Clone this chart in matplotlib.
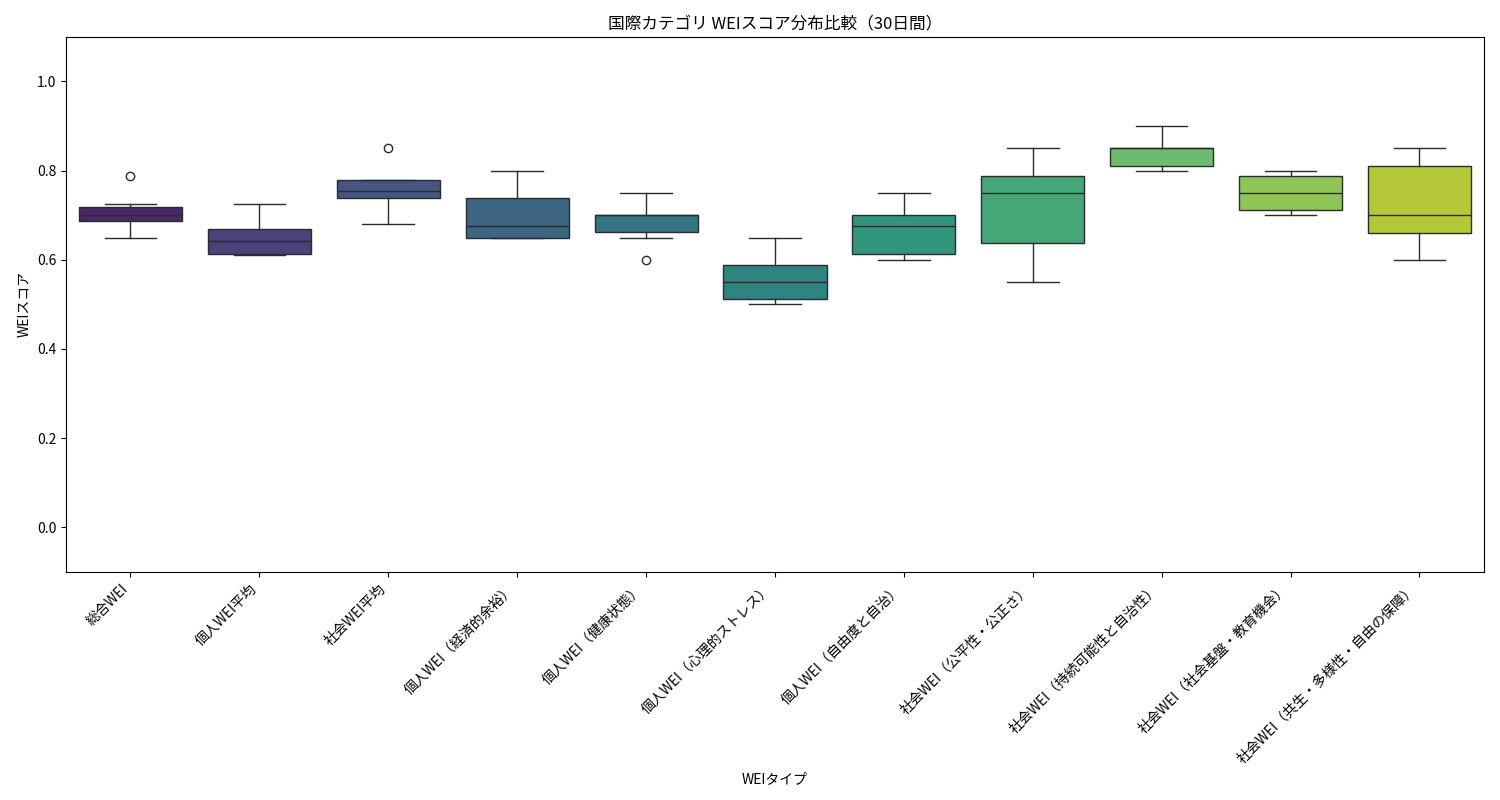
import matplotlib
matplotlib.use("Agg")
import matplotlib.pyplot as plt
import seaborn as sns

plt.rcParams['font.family'] = ['Noto Sans CJK JP', 'DejaVu Sans']

categories = [
    "総合WEI", "個人WEI平均", "社会WEI平均",
    "個人WEI（経済的余裕）", "個人WEI（健康状態）", "個人WEI（心理的ストレス）",
    "個人WEI（自由度と自治）", "社会WEI（公平性・公正さ）",
    "社会WEI（持続可能性と自治性）", "社会WEI（社会基盤・教育機会）",
    "社会WEI（共生・多様性・自由の保障）",
]
q1 = [0.686, 0.612, 0.738, 0.650, 0.662, 0.512, 0.612, 0.637, 0.811, 0.711, 0.661]
median = [0.700, 0.642, 0.755, 0.675, 0.700, 0.550, 0.675, 0.750, 0.850, 0.750, 0.700]
q3 = [0.718, 0.670, 0.778, 0.738, 0.700, 0.588, 0.700, 0.787, 0.850, 0.787, 0.811]
whis_lo = [0.650, 0.610, 0.680, 0.650, 0.650, 0.500, 0.600, 0.550, 0.800, 0.700, 0.600]
whis_hi = [0.725, 0.725, 0.780, 0.800, 0.750, 0.650, 0.750, 0.850, 0.900, 0.800, 0.850]
outliers = [[0.788], [], [0.850], [], [0.600], [], [], [], [], [], []]


def main():
    fig, ax = plt.subplots(figsize=(15, 8), dpi=100)

    stats = []
    for i in range(len(categories)):
        stats.append({'q1': q1[i], 'med': median[i], 'q3': q3[i],
                      'whislo': whis_lo[i], 'whishi': whis_hi[i],
                      'fliers': outliers[i]})

    colors = [sns.desaturate(c, 0.75) for c in sns.color_palette('viridis', len(categories))]
    line_c = (0.17, 0.17, 0.17)

    bp = ax.bxp(stats, positions=range(len(categories)), widths=0.8,
                patch_artist=True, capwidths=0.4,
                boxprops=dict(edgecolor=line_c, linewidth=1.0),
                medianprops=dict(color=line_c, linewidth=1.0),
                whiskerprops=dict(color=line_c, linewidth=1.0),
                capprops=dict(color=line_c, linewidth=1.0),
                flierprops=dict(marker='o', markerfacecolor='none',
                                markeredgecolor=line_c, markersize=6,
                                markeredgewidth=1.0))
    for patch, c in zip(bp['boxes'], colors):
        patch.set_facecolor(c)

    ax.set_xlim(-0.5, len(categories) - 0.5)
    ax.set_ylim(-0.1, 1.1)
    ax.set_xticks(range(len(categories)))
    ax.set_xticklabels(categories, rotation=45, ha='right')
    ax.set_title("国際カテゴリ WEIスコア分布比較（30日間）")
    ax.set_xlabel("WEIタイプ")
    ax.set_ylabel("WEIスコア")

    plt.subplots_adjust(left=0.044, right=0.9893, top=0.954, bottom=0.285)
    plt.savefig("out.png", dpi=100)


if __name__ == "__main__":
    main()
